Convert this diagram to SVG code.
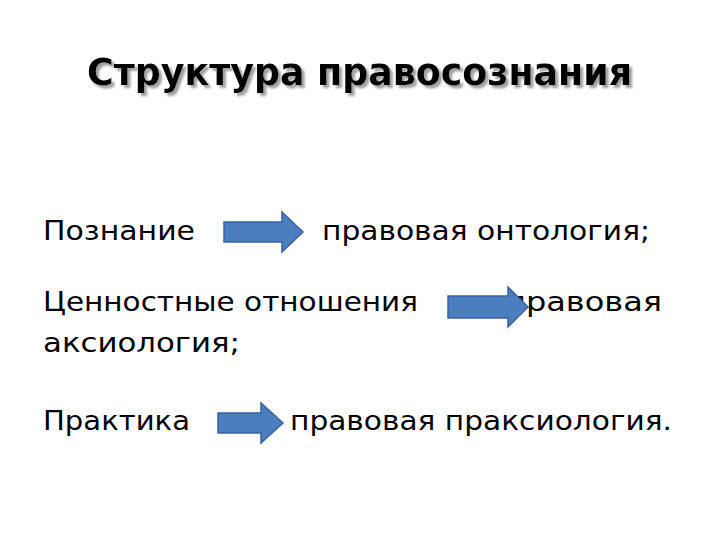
<svg xmlns="http://www.w3.org/2000/svg" width="720" height="540" viewBox="0 0 720 540">
<defs>
<style>
.t{font-family:"DejaVu Sans","Noto Sans",sans-serif;font-size:27px;fill:#000}
.h{font-family:"DejaVu Sans","Noto Sans",sans-serif;font-size:38px;font-weight:bold;fill:#000}
.a{fill:#4a7ebf;stroke:#3a62a0;stroke-width:1.5}
</style>
<filter id="sh" x="-5%" y="-20%" width="110%" height="150%">
<feDropShadow dx="3" dy="3" stdDeviation="1" flood-color="#a0a0a0" flood-opacity="1"/>
</filter>
</defs>
<rect width="720" height="540" fill="#fff"/>
<g id="title">
<text class="h" x="87" y="85" filter="url(#sh)" textLength="545" lengthAdjust="spacingAndGlyphs">Структура правосознания</text>
</g>
<g id="row1">
<text class="t" x="43" y="240" textLength="152" lengthAdjust="spacingAndGlyphs">Познание</text>
<text class="t" x="322" y="240" textLength="328" lengthAdjust="spacingAndGlyphs">правовая онтология;</text>
</g>
<g id="row2">
<text class="t" x="43" y="311" textLength="375" lengthAdjust="spacingAndGlyphs">Ценностные отношения</text>
<text class="t" x="505" y="311" textLength="157" lengthAdjust="spacingAndGlyphs">правовая</text>
<text class="t" x="43" y="352" textLength="197" lengthAdjust="spacingAndGlyphs">аксиология;</text>
</g>
<g id="row3">
<text class="t" x="43" y="430" textLength="147" lengthAdjust="spacingAndGlyphs">Практика</text>
<text class="t" x="290" y="430" textLength="382" lengthAdjust="spacingAndGlyphs">правовая праксиология.</text>
</g>
<g id="connectors">
<polygon class="a" points="224,222 282,222 282,212 303,232 282,252 282,242 224,242"/>
<polygon class="a" points="448,296 508,296 508,287 528,307 508,327 508,318 448,318"/>
<polygon class="a" points="218,413 261,413 261,403 283,423 261,443 261,433 218,433"/>
</g>
</svg>
